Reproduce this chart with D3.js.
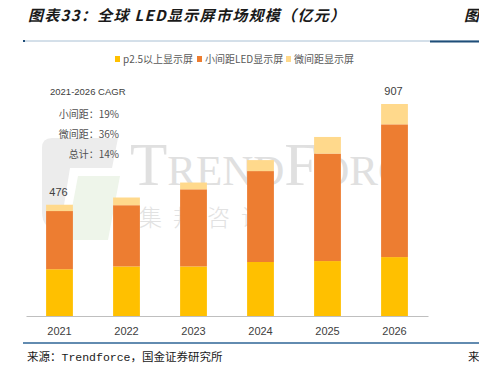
<!DOCTYPE html>
<html><head><meta charset="utf-8">
<script src="https://cdn.jsdelivr.net/npm/d3@7/dist/d3.min.js"></script>
<style>
html,body{margin:0;padding:0;background:#fff;}
svg{display:block;}
</style></head>
<body>
<svg id="c" width="479" height="367"></svg>
<script>
const years = ['2021','2022','2023','2024','2025','2026'];
const p25 = [200,212,212,231,235,252];
const smallPitch = [249,262,330,389,460,568];
const microPitch = [27,33,29,47,71,87];
const seriesNames = ['p2.5以上显示屏','小间距LED显示屏','微间距显示屏'];
const seriesColors = ['#FFC000','#ED7D31','#FFD98C'];
const totalLabels = {'2021':476,'2026':907};
const cagrTitle = '2021-2026 CAGR';
const cagrLines = ['小间距：19%','微间距：36%','总计：14%'];

const svg = d3.select('#c');
const cjk = '"Noto Sans CJK SC","Noto Sans",sans-serif';

// title
svg.append('text').attr('x',28).attr('y',21)
  .attr('font-family',cjk).attr('font-size',15).attr('font-weight','bold')
  .attr('font-style','italic').attr('letter-spacing',1.3).attr('fill','#1a1a1a')
  .text('图表33：全球 LED显示屏市场规模（亿元）');
svg.append('text').attr('x',464).attr('y',21)
  .attr('font-family',cjk).attr('font-size',15).attr('font-weight','bold')
  .attr('font-style','italic').attr('fill','#1a1a1a').text('图');
// top lines
svg.append('line').attr('x1',23).attr('x2',479).attr('y1',41).attr('y2',41)
  .attr('stroke','#A9C0D4').attr('stroke-width',1);
svg.append('line').attr('x1',430).attr('x2',479).attr('y1',41.5).attr('y2',41.5)
  .attr('stroke','#1F4E79').attr('stroke-width',2);
svg.append('rect').attr('x',23).attr('y',40).attr('width',2).attr('height',2).attr('fill','#1F4E79');

// scales
const x = d3.scaleBand().domain(years).range([26,428]).paddingInner(0.6).paddingOuter(0.3);
const y = d3.scaleLinear().domain([0,907]).range([316,104]);

// watermark
svg.append('clipPath').attr('id','wmclip').append('rect')
  .attr('x',0).attr('y',100).attr('width',408).attr('height',200);
const wm = svg.append('g').attr('clip-path','url(#wmclip)');
wm.append('path').attr('d','M52,138 H118 L112,168 H70 L60,230 Q42,230 42,212 V148 Q42,138 52,138 Z')
  .attr('fill','#ececec');
wm.append('path').attr('d','M78,176 H120 L108,240 H66 Z').attr('fill','#eef5ea');
wm.append('text').attr('x',130).attr('y',185)
  .attr('font-family','"Liberation Serif","DejaVu Serif",serif').attr('font-size',61)
  .attr('fill','#e0e0e0').attr('font-variant','small-caps')
  .text('TrendForce');
wm.append('text').attr('x',139).attr('y',226)
  .attr('font-family',cjk).attr('font-size',23).attr('font-weight',300)
  .attr('fill','#e2e2e2').attr('letter-spacing',11)
  .text('集邦咨询');

// stacked bars
const rows = years.map((yr,i)=>({year:yr, a:p25[i], b:smallPitch[i], c:microPitch[i]}));
const stack = d3.stack().keys(['a','b','c'])(rows);
svg.append('g').selectAll('g').data(stack).join('g')
  .attr('fill',(d,i)=>seriesColors[i])
  .selectAll('rect').data(d=>d).join('rect')
  .attr('x',d=>x(d.data.year)).attr('width',x.bandwidth())
  .attr('y',d=>y(d[1])).attr('height',d=>y(d[0])-y(d[1]));

// axis
const xAxis = svg.append('g').attr('transform','translate(0,316)')
  .call(d3.axisBottom(x).tickSize(0).tickPadding(11));
xAxis.select('.domain').attr('stroke','#BFBFBF').attr('stroke-width',1.2);
xAxis.selectAll('text').attr('font-family','"Liberation Sans Narrow","Liberation Sans",sans-serif')
  .attr('font-size',11).attr('fill','#404040');

// total labels
svg.append('g').selectAll('text').data(years.filter(yr=>totalLabels[yr]!==undefined)).join('text')
  .attr('x',yr=>x(yr)+x.bandwidth()/2-1)
  .attr('y',yr=>y(totalLabels[yr])-9)
  .attr('text-anchor','middle')
  .attr('font-family','"Liberation Sans",sans-serif').attr('font-size',11).attr('fill','#404040')
  .text(yr=>totalLabels[yr]);

// CAGR notes
svg.append('text').attr('x',50).attr('y',95)
  .attr('font-family','"Liberation Sans",sans-serif').attr('font-size',9.5).attr('fill','#404040')
  .text(cagrTitle);
svg.append('g').selectAll('text').data(cagrLines).join('text')
  .attr('x',119).attr('y',(d,i)=>118+i*20).attr('text-anchor','end')
  .attr('font-family',cjk).attr('font-size',10).attr('fill','#505050')
  .text(d=>d);

// legend
const legX = [115,197,286];
const leg = svg.append('g').selectAll('g').data(seriesNames).join('g')
  .attr('transform',(d,i)=>`translate(${legX[i]},0)`);
leg.append('rect').attr('x',0).attr('y',56).attr('width',5).attr('height',6)
  .attr('fill',(d,i)=>seriesColors[i]);
leg.append('text').attr('x',8).attr('y',63)
  .attr('font-family',cjk).attr('font-size',10).attr('fill','#595959').text(d=>d);

// bottom line + source
svg.append('line').attr('x1',23).attr('x2',479).attr('y1',343).attr('y2',343)
  .attr('stroke','#2E6596').attr('stroke-width',1.5);
svg.append('text').attr('x',27).attr('y',361)
  .attr('font-family','"Noto Sans CJK SC","Liberation Mono",monospace').attr('font-size',11.5)
  .attr('fill','#1a1a1a')
  .html('来源：<tspan font-family="Liberation Mono,DejaVu Sans Mono,monospace">Trendforce</tspan>，国金证券研究所');
svg.append('text').attr('x',468).attr('y',361)
  .attr('font-family',cjk).attr('font-size',11.5).attr('fill','#1a1a1a').text('来');
</script>
</body></html>
